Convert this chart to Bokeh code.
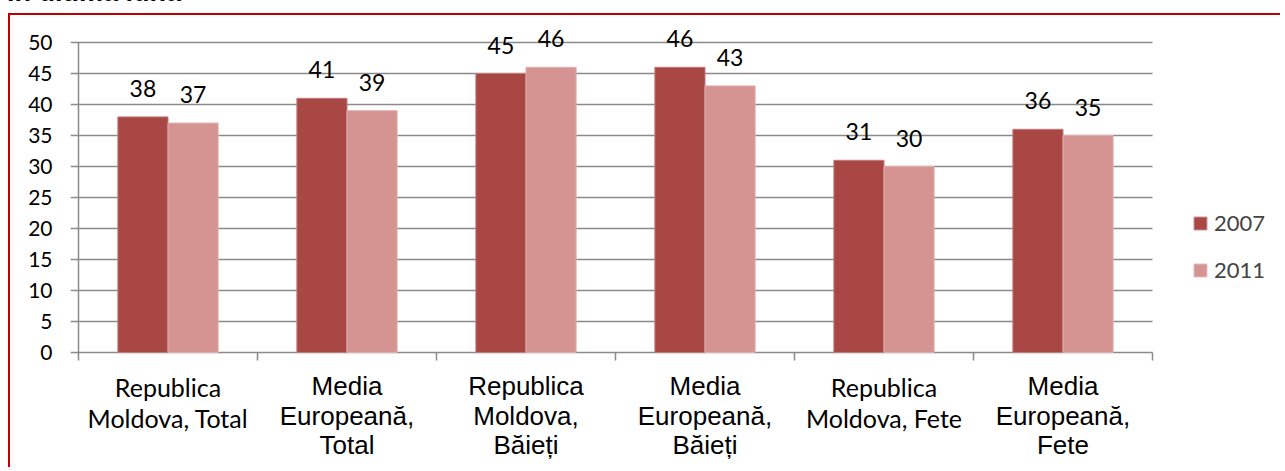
from bokeh.plotting import figure
from bokeh.models import (ColumnDataSource, Range1d, FixedTicker, LabelSet, Label,
                          Legend, LegendItem, Div)
from bokeh.layouts import column
from bokeh.core.properties import value
from bokeh.embed import file_html
from bokeh.resources import INLINE

# ---- data ----
page_heading = "în ultima lună"
categories = ["Republica\nMoldova, Total", "Media\nEuropeană,\nTotal",
              "Republica\nMoldova,\nBăieți", "Media\nEuropeană,\nBăieți",
              "Republica\nMoldova, Fete", "Media\nEuropeană,\nFete"]
small_font_cats = [0, 4]          # categories drawn in the narrower font
years = ["2007", "2011"]
values_2007 = [38, 41, 45, 46, 31, 36]
values_2011 = [37, 39, 46, 43, 30, 35]
y_ticks = [0, 5, 10, 15, 20, 25, 30, 35, 40, 45, 50]
y_max = 50

# ---- geometry / styles ----
C2007 = "#A94745"
C2011 = "#D59391"
GRID = "#8A8A8A"
RED = "#C00000"
BAR_W = 0.28
W, H = 1272, 454
LEFT = 60            # canvas px left of the frame (tick labels)
CAT_PX = 179.0       # px per category
PX = 6.2             # px per y unit
TOP_GAP = 27         # px from frame top to y = 50
TICK = 8             # tick length px

n = len(categories)
frame_w = W - LEFT
y_top = y_max + TOP_GAP / PX
y_bot = y_max - (H - TOP_GAP) / PX
x0 = -TICK / CAT_PX

p = figure(width=W, height=H, output_backend="svg", toolbar_location=None,
           x_range=Range1d(x0, x0 + frame_w / CAT_PX), y_range=Range1d(y_bot, y_top),
           min_border_left=LEFT, min_border_top=0, min_border_bottom=0,
           min_border_right=0,
           styles={"margin-left": "8px",
                   "border-left": f"2px solid {RED}",
                   "border-top": f"2px solid {RED}"})
p.outline_line_color = None
p.background_fill_color = "white"
p.border_fill_color = "white"
p.xgrid.visible = False
p.ygrid.visible = False
p.xaxis.visible = False

# gridlines (incl. the short ticks left of the axis) and axes
p.segment(x0=[x0] * len(y_ticks), x1=[n] * len(y_ticks), y0=y_ticks, y1=y_ticks,
          line_color=GRID, line_width=1.5)
p.segment(x0=[0], x1=[0], y0=[0], y1=[y_max], line_color=GRID, line_width=1.5)
p.segment(x0=list(range(n + 1)), x1=list(range(n + 1)), y0=[0] * (n + 1),
          y1=[-TICK / PX] * (n + 1), line_color=GRID, line_width=1.5)

xc = [i + 0.5 for i in range(n)]
src = ColumnDataSource(dict(
    x1=[x - BAR_W / 2 for x in xc], x2=[x + BAR_W / 2 for x in xc],
    v1=values_2007, v2=values_2011,
    t1=[str(v) for v in values_2007], t2=[str(v) for v in values_2011]))

r1 = p.vbar(x="x1", top="v1", width=BAR_W, source=src, fill_color=C2007,
            line_color="#C17B79", line_width=1)
r2 = p.vbar(x="x2", top="v2", width=BAR_W, source=src, fill_color=C2011,
            line_color="#E0B0AE", line_width=1)

# value labels
for xcol, tcol, vcol in (("x1", "t1", "v1"), ("x2", "t2", "v2")):
    p.add_layout(LabelSet(x=xcol, y=vcol, text=tcol, source=src, y_offset=20,
                          text_align="center", text_baseline="alphabetic",
                          text_font=value("Lato"), text_font_size=value("23px"),
                          text_color="black"))

ya = p.yaxis[0]
ya.ticker = FixedTicker(ticks=y_ticks)
ya.axis_line_color = None
ya.major_tick_line_color = None
ya.major_tick_out = 0
ya.major_tick_in = 0
ya.minor_tick_line_color = None
ya.major_label_text_font = "Lato"
ya.major_label_text_font_size = "21px"
ya.major_label_text_color = "black"
ya.major_label_standoff = 18

# category labels
for i, cat in enumerate(categories):
    lines = cat.split("\n")
    if i in small_font_cats:
        font, size, offs = "Lato", "25px", [34, 65]
    else:
        font, size, offs = "Liberation Sans", "26px", [33, 63, 92]
    for line, off in zip(lines, offs):
        p.add_layout(Label(x=xc[i], y=0, y_offset=-off, text=line,
                           text_align="center", text_baseline="alphabetic",
                           text_font=font, text_font_size=size,
                           text_color="black"))

legend = Legend(items=[LegendItem(label=years[0], renderers=[r1]),
                       LegendItem(label=years[1], renderers=[r2])],
                location=(1122, 186), padding=0, margin=0, spacing=20,
                glyph_width=16, glyph_height=16, label_height=16,
                label_standoff=6, border_line_color=None,
                background_fill_alpha=0,
                label_text_font="Lato", label_text_font_size="22px")
p.add_layout(legend, "center")

# cut-off heading of the page above the chart box (only its lower edge shows)
heading = Div(
    text=(f'<div style="position:relative; top:-21px; left:7px; margin:0; '
          f'font: bold 27px \'Liberation Sans\'; line-height:27px; '
          f'white-space:nowrap; color:black;">{page_heading}</div>'),
    width=400, height=13, styles={"overflow": "hidden", "margin": "0"})

layout = column(heading, p, spacing=0)
open("out.html", "w").write(file_html(layout, INLINE))
